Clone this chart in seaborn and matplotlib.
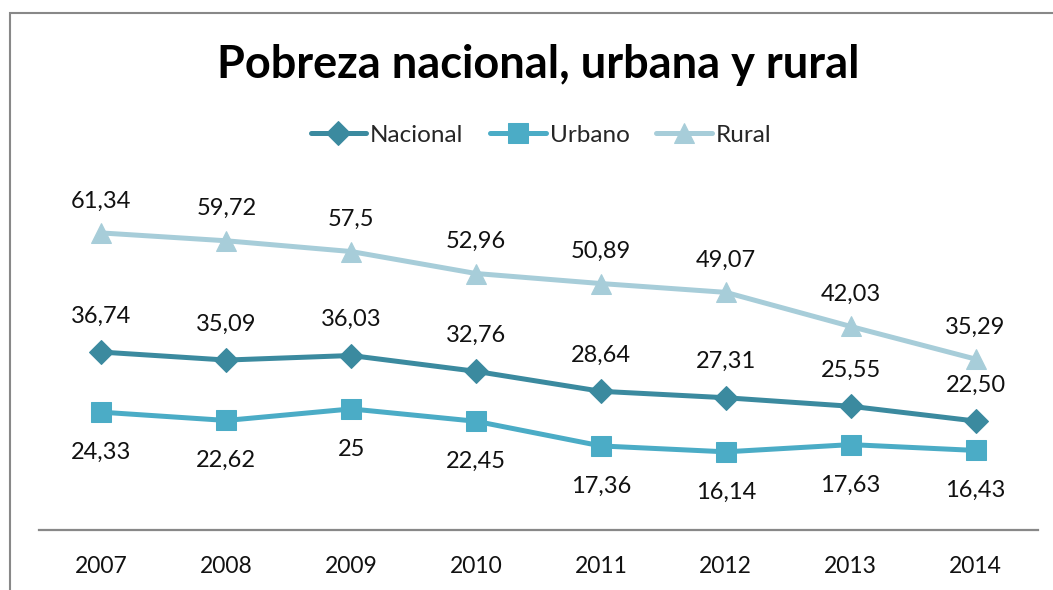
import pandas as pd
import matplotlib.pyplot as plt
import seaborn as sns
from matplotlib.patches import Rectangle

# ---------------------------------------------------------
# DATA
# ---------------------------------------------------------
years = ['2007', '2008', '2009', '2010', '2011', '2012', '2013', '2014']
nacional = [36.74, 35.09, 36.03, 32.76, 28.64, 27.31, 25.55, 22.50]
urbano = [24.33, 22.62, 25.00, 22.45, 17.36, 16.14, 17.63, 16.43]
rural = [61.34, 59.72, 57.50, 52.96, 50.89, 49.07, 42.03, 35.29]
nacional_labels = ['36,74', '35,09', '36,03', '32,76', '28,64', '27,31', '25,55', '22,50']
urbano_labels = ['24,33', '22,62', '25', '22,45', '17,36', '16,14', '17,63', '16,43']
rural_labels = ['61,34', '59,72', '57,5', '52,96', '50,89', '49,07', '42,03', '35,29']

series = ['Nacional', 'Urbano', 'Rural']
colors = {'Nacional': '#3B8A9F', 'Urbano': '#4BACC6', 'Rural': '#A7CDD9'}
markers = {'Nacional': 'D', 'Urbano': 's', 'Rural': '^'}
marker_sizes = {'Nacional': 12.5, 'Urbano': 14, 'Rural': 14.5}

df = pd.DataFrame({
    'Year': years * 3,
    'Valor': nacional + urbano + rural,
    'Serie': ['Nacional'] * 8 + ['Urbano'] * 8 + ['Rural'] * 8,
})

# ---------------------------------------------------------
# FIGURE
# ---------------------------------------------------------
sns.set_theme(style="white")
plt.rcParams['font.family'] = ['Lato', 'DejaVu Sans']

fig = plt.figure(figsize=(10.53, 5.90), dpi=100)
ax = fig.add_axes([39 / 1053, 60 / 590, 999 / 1053, 339 / 590])

for name in series:
    sub = df[df['Serie'] == name]
    sns.lineplot(data=sub, x='Year', y='Valor', color=colors[name], linewidth=3.6,
                 marker=markers[name], markersize=marker_sizes[name],
                 markeredgecolor=colors[name], label=name, ax=ax, sort=False)

# data labels: Rural and Nacional above, Urbano below
label_style = dict(textcoords='offset points', ha='center', va='center',
                   fontsize=17, color='#111111')
for i, (v, t) in enumerate(zip(rural, rural_labels)):
    ax.annotate(t, (i, v), xytext=(0, 23), **label_style)
for i, (v, t) in enumerate(zip(nacional, nacional_labels)):
    ax.annotate(t, (i, v), xytext=(0, 26), **label_style)
for i, (v, t) in enumerate(zip(urbano, urbano_labels)):
    ax.annotate(t, (i, v), xytext=(0, -29), **label_style)

ax.set_xlim(-0.5, 7.5)
ax.set_ylim(0, 70)
ax.set_xlabel('')
ax.set_ylabel('')
ax.set_yticks([])
ax.tick_params(axis='x', length=0, pad=19, labelsize=16.5, labelcolor='#111111')
for side in ['top', 'right', 'left']:
    ax.spines[side].set_visible(False)
ax.spines['bottom'].set_color('#888888')
ax.spines['bottom'].set_linewidth(1.6)

ax.get_legend().remove()
handles, labels = ax.get_legend_handles_labels()
fig.legend(handles, labels, loc='center', bbox_to_anchor=(541 / 1053, 1 - 135 / 590),
           ncol=3, frameon=False, fontsize=17.5, handlelength=2.3, handletextpad=0.15,
           columnspacing=1.1)

fig.text(538 / 1053, 1 - 65 / 590, 'Pobreza nacional, urbana y rural',
         ha='center', va='center', fontsize=32.5, fontweight='bold', color='#000000')

# chart frame (left and top edges visible)
fig.add_artist(Rectangle((10 / 1053, -0.1), 1.2, 1 - 13 / 590 + 0.1,
                         transform=fig.transFigure, fill=False,
                         edgecolor='#888888', linewidth=1.5))

fig.savefig('out.png', dpi=100)
